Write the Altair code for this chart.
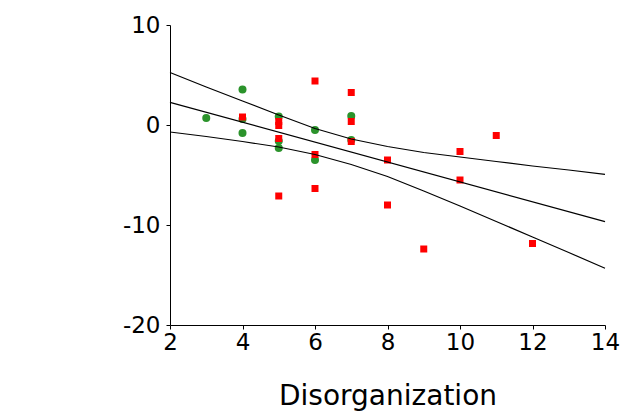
import altair as alt
import pandas as pd

# scatter points
green_x = [3, 4, 4, 4, 5, 5, 5, 6, 6, 7, 7]
green_y = [0.7, 3.55, 0.6, -0.8, 0.85, -1.6, -2.3, -0.5, -3.5, 0.9, -1.5]
red_x = [4, 5, 5, 5, 5, 6, 6, 6, 7, 7, 7, 8, 8, 9, 10, 10, 11, 12]
red_y = [0.8, 0.35, -0.05, -1.35, -7.1, 4.4, -2.95, -6.35, 3.25, 0.35, -1.65,
         -3.5, -8.0, -12.4, -2.65, -5.5, -1.05, -11.85]

# regression line and confidence band
fit_x = [2, 14]
fit_y = [2.27, -9.67]
band_x = [2, 3, 4, 5, 6, 7, 8, 9, 10, 11, 12, 13, 14]
upper_y = [5.25, 3.8, 2.4, 1.0, -0.35, -1.4, -2.15, -2.75, -3.2, -3.65, -4.1, -4.5, -4.93]
lower_y = [-0.7, -1.15, -1.65, -2.2, -2.95, -3.95, -5.15, -6.6, -8.1, -9.65, -11.2, -12.75, -14.33]

x_ticks = [2, 4, 6, 8, 10, 12, 14]
y_ticks = [-20, -10, 0, 10]

green = pd.DataFrame({"x": green_x, "y": green_y})
red = pd.DataFrame({"x": red_x, "y": red_y})
lines = pd.concat([
    pd.DataFrame({"x": fit_x, "y": fit_y, "line": "fit"}),
    pd.DataFrame({"x": band_x, "y": upper_y, "line": "upper"}),
    pd.DataFrame({"x": band_x, "y": lower_y, "line": "lower"}),
])

FONT = "DejaVu Sans"
xs = alt.Scale(domain=[2, 14], nice=False, zero=False)
ys = alt.Scale(domain=[-20, 10], nice=False, zero=False)

xax = alt.Axis(values=x_ticks, grid=False, domainColor="black", tickColor="black",
               tickSize=4, labelFontSize=23, labelFont=FONT, labelColor="black",
               labelPadding=2, title="Disorganization", titleFont=FONT,
               titleFontSize=28, titleFontWeight="normal", titleColor="black",
               titleY=79, titleBaseline="alphabetic",
               labelFlush=False, labelExpr="'' + datum.value")
yax = alt.Axis(values=y_ticks, grid=False, domainColor="black", tickColor="black",
               tickSize=4, labelFontSize=23, labelFont=FONT, labelColor="black",
               labelPadding=6, title=None, labelExpr="'' + datum.value")

g = alt.Chart(green).mark_point(shape="circle", filled=True, size=64,
                                color="#2b932b", opacity=1).encode(
    x=alt.X("x:Q", scale=xs, axis=xax),
    y=alt.Y("y:Q", scale=ys, axis=yax),
)
r = alt.Chart(red).mark_point(shape="square", filled=True, size=49,
                              color="#ff0000", opacity=1).encode(
    x=alt.X("x:Q", scale=xs),
    y=alt.Y("y:Q", scale=ys),
)
l = alt.Chart(lines).mark_line(color="black", strokeWidth=1.2).encode(
    x=alt.X("x:Q", scale=xs),
    y=alt.Y("y:Q", scale=ys),
    detail="line:N",
)

chart = alt.layer(g, r, l).properties(
    width=435, height=300,
    background="white",
    autosize=alt.AutoSizeParams(type="none"),
    padding={"left": 162, "top": 17, "right": 20, "bottom": 86},
).configure_view(strokeWidth=0, stroke="transparent")

chart.save("out.html", embed_options={"renderer": "svg", "actions": False})
